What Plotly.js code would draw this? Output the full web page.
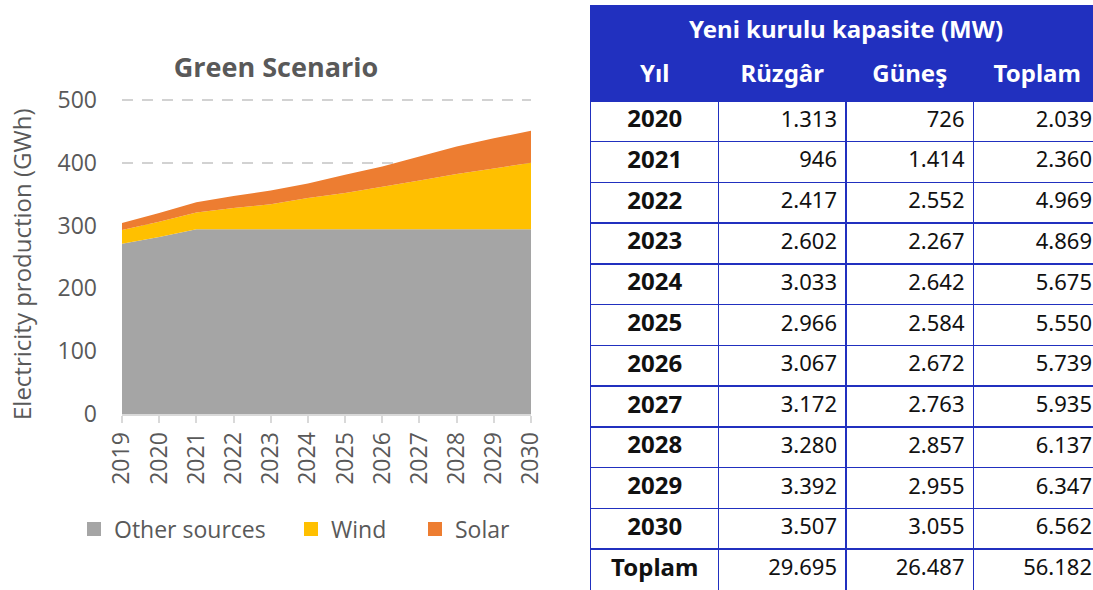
<!DOCTYPE html>
<html>
<head>
<meta charset="utf-8">
<script src="https://cdn.plot.ly/plotly-3.0.1.min.js"></script>
<style>
html, body { margin: 0; padding: 0; overflow: hidden; background: #fff; }
#chart { width: 1101px; height: 590px; }
</style>
</head>
<body>
<div id="chart"></div>
<script>
// ---- Chart data (GWh, stacked) ----
const years = [2019, 2020, 2021, 2022, 2023, 2024, 2025, 2026, 2027, 2028, 2029, 2030];
const otherSources = [271, 282, 294, 294, 294, 294, 294, 294, 294, 294, 294, 294];
const wind = [22, 24, 27, 34, 40, 50, 58, 68, 78, 88, 97, 106];
const solar = [11, 14, 16, 19, 22, 23, 29, 32, 38, 44, 48, 51];
const seriesNames = ['Other sources', 'Wind', 'Solar'];
const chartTitle = 'Green Scenario';
const yTitle = 'Electricity production (GWh)';
const yTicks = [0, 100, 200, 300, 400, 500];

// ---- Table data (MW) ----
const tableTitle = 'Yeni kurulu kapasite (MW)';
const tableHeaders = ['Yıl', 'Rüzgâr', 'Güneş', 'Toplam'];
const tableYears = ['2020', '2021', '2022', '2023', '2024', '2025', '2026', '2027', '2028', '2029', '2030'];
const ruzgar = [1313, 946, 2417, 2602, 3033, 2966, 3067, 3172, 3280, 3392, 3507];
const gunes = [726, 1414, 2552, 2267, 2642, 2584, 2672, 2763, 2857, 2955, 3055];
const toplam = [2039, 2360, 4969, 4869, 5675, 5550, 5739, 5935, 6137, 6347, 6562];
const totalLabel = 'Toplam';
const totals = [29695, 26487, 56182];

const W = 1101, H = 590;
const fx = p => p / W;
const fy = p => 1 - p / H;
const fmt = n => String(n).replace(/\B(?=(\d{3})+(?!\d))/g, '.');

const colors = ['#a5a5a5', '#ffc000', '#ed7d31'];
const txt = '#595959';
const chartFont = 'Open Sans, sans-serif';
const tblFont = 'Noto Sans, Open Sans, sans-serif';
const blue = '#2130bf';
const FS = 23;
const Y_MAX = 512;
const PX_PER_UNIT = 0.628;

const traces = [];
const seriesData = [otherSources, wind, solar];
seriesData.forEach((vals, i) => {
  traces.push({
    type: 'scatter', x: years, y: vals, stackgroup: 'one', mode: 'none',
    fillcolor: colors[i], name: seriesNames[i], showlegend: false, hoverinfo: 'skip'
  });
});
const legendWidths = [172, 79, 60];
seriesData.forEach((vals, i) => {
  traces.push({
    type: 'scatter', x: [null], y: [null], mode: 'markers', name: seriesNames[i],
    marker: { symbol: 'square', size: 14, color: colors[i] }, showlegend: true,
    legendwidth: legendWidths[i]
  });
});

// ---- Table drawn on its own axes (x2 = column index, y2 = row index) ----
const rowLabels = tableYears.concat([totalLabel]);
const rowIdx = rowLabels.map((_, i) => i);
const numCols = [ruzgar.concat([totals[0]]), gunes.concat([totals[1]]), toplam.concat([totals[2]])];
const PAD = 9 / 127.5;          // right padding in column units
const HEAD_Y = -1.1;            // column-header row centre
const TITLE_Y = -2.2;           // title band centre
const TOP_Y = -2.85;            // top of header band
const ROW_TOP = -0.5;

traces.push({
  type: 'scatter', xaxis: 'x2', yaxis: 'y2', mode: 'text', showlegend: false, hoverinfo: 'skip',
  x: rowIdx.map(() => 0.5), y: rowIdx, text: rowLabels.map(s => '<b>' + s + '</b>'),
  textposition: 'middle center', textfont: { family: tblFont, size: 24, color: '#111111' }
});
numCols.forEach((col, c) => {
  traces.push({
    type: 'scatter', xaxis: 'x2', yaxis: 'y2', mode: 'text', showlegend: false, hoverinfo: 'skip',
    x: col.map(() => c + 2 - PAD), y: rowIdx, text: col.map(fmt),
    textposition: 'middle left', textfont: { family: tblFont, size: 22, color: '#111111' }
  });
});
traces.push({
  type: 'scatter', xaxis: 'x2', yaxis: 'y2', mode: 'text', showlegend: false, hoverinfo: 'skip',
  x: tableHeaders.map((_, i) => i + 0.5), y: tableHeaders.map(() => HEAD_Y),
  text: tableHeaders.map(h => '<b>' + h + '</b>'),
  textposition: 'middle center', textfont: { family: tblFont, size: 24, color: '#ffffff' }
});
traces.push({
  type: 'scatter', xaxis: 'x2', yaxis: 'y2', mode: 'text', showlegend: false, hoverinfo: 'skip',
  x: [tableHeaders.length / 2], y: [TITLE_Y], text: ['<b>' + tableTitle + '</b>'],
  textposition: 'middle center', textfont: { family: tblFont, size: 24, color: '#ffffff' }
});

const rowLines = rowLabels.slice(0, -1).map((_, i) => i - 0.5).concat([rowLabels.length - 1.5]);

const layout = {
  width: W, height: H,
  margin: { l: 0, r: 0, t: 0, b: 0, pad: 0 },
  paper_bgcolor: '#ffffff', plot_bgcolor: 'rgba(0,0,0,0)',
  showlegend: true,
  title: {
    text: '<b>' + chartTitle + '</b>', x: fx(276), y: fy(68), xanchor: 'center', yanchor: 'middle',
    xref: 'paper', yref: 'paper',
    font: { family: chartFont, size: 27, color: txt }
  },
  xaxis: {
    domain: [fx(122), fx(531)], range: [2019, 2030],
    tickvals: years, ticktext: years.map(String), tickangle: -90,
    ticks: 'outside', ticklen: 7, tickwidth: 2, tickcolor: '#d9d9d9',
    showline: true, linecolor: '#d9d9d9', linewidth: 2,
    showgrid: false, zeroline: false,
    tickfont: { family: chartFont, size: FS, color: txt }, fixedrange: true
  },
  yaxis: {
    domain: [fy(414), fy(414 - Y_MAX * PX_PER_UNIT)], range: [0, Y_MAX], tickvals: yTicks,
    showgrid: true, gridcolor: '#d2d2d2', gridwidth: 2.5, griddash: '11px,9px',
    zeroline: false, showline: false, ticks: '',
    ticklabelstandoff: 24,
    tickfont: { family: chartFont, size: FS, color: txt },
    fixedrange: true
  },
  xaxis2: {
    domain: [fx(591), 1], range: [0, 4], anchor: 'y2',
    tickvals: [1, 2, 3], showgrid: true, gridcolor: blue, gridwidth: 1.5,
    showticklabels: false, ticks: '', zeroline: false, showline: false, fixedrange: true
  },
  yaxis2: {
    domain: [0, fy(5)], range: [rowLabels.length - 0.5, TOP_Y], anchor: 'x2',
    tickvals: rowLines, showgrid: true, gridcolor: blue, gridwidth: 1.5,
    showticklabels: false, ticks: '', zeroline: false,
    showline: true, linecolor: blue, linewidth: 1.5, fixedrange: true
  },
  legend: {
    orientation: 'h', x: fx(74), y: fy(529), xanchor: 'left', yanchor: 'middle',
    traceorder: 'normal',
    font: { family: chartFont, size: FS, color: txt }, itemwidth: 30, bgcolor: 'rgba(0,0,0,0)'
  },
  shapes: [{
    type: 'rect', xref: 'x2', yref: 'y2', x0: 0, x1: 4, y0: TOP_Y, y1: ROW_TOP,
    fillcolor: blue, line: { width: 0 }, layer: 'below'
  }],
  annotations: [{
    text: yTitle, xref: 'paper', yref: 'paper', x: fx(21), y: fy(265),
    xanchor: 'center', yanchor: 'middle', textangle: -90, showarrow: false,
    font: { family: chartFont, size: 24, color: txt }
  }]
};

Plotly.newPlot('chart', traces, layout, { displayModeBar: false, staticPlot: true });
</script>
</body>
</html>
